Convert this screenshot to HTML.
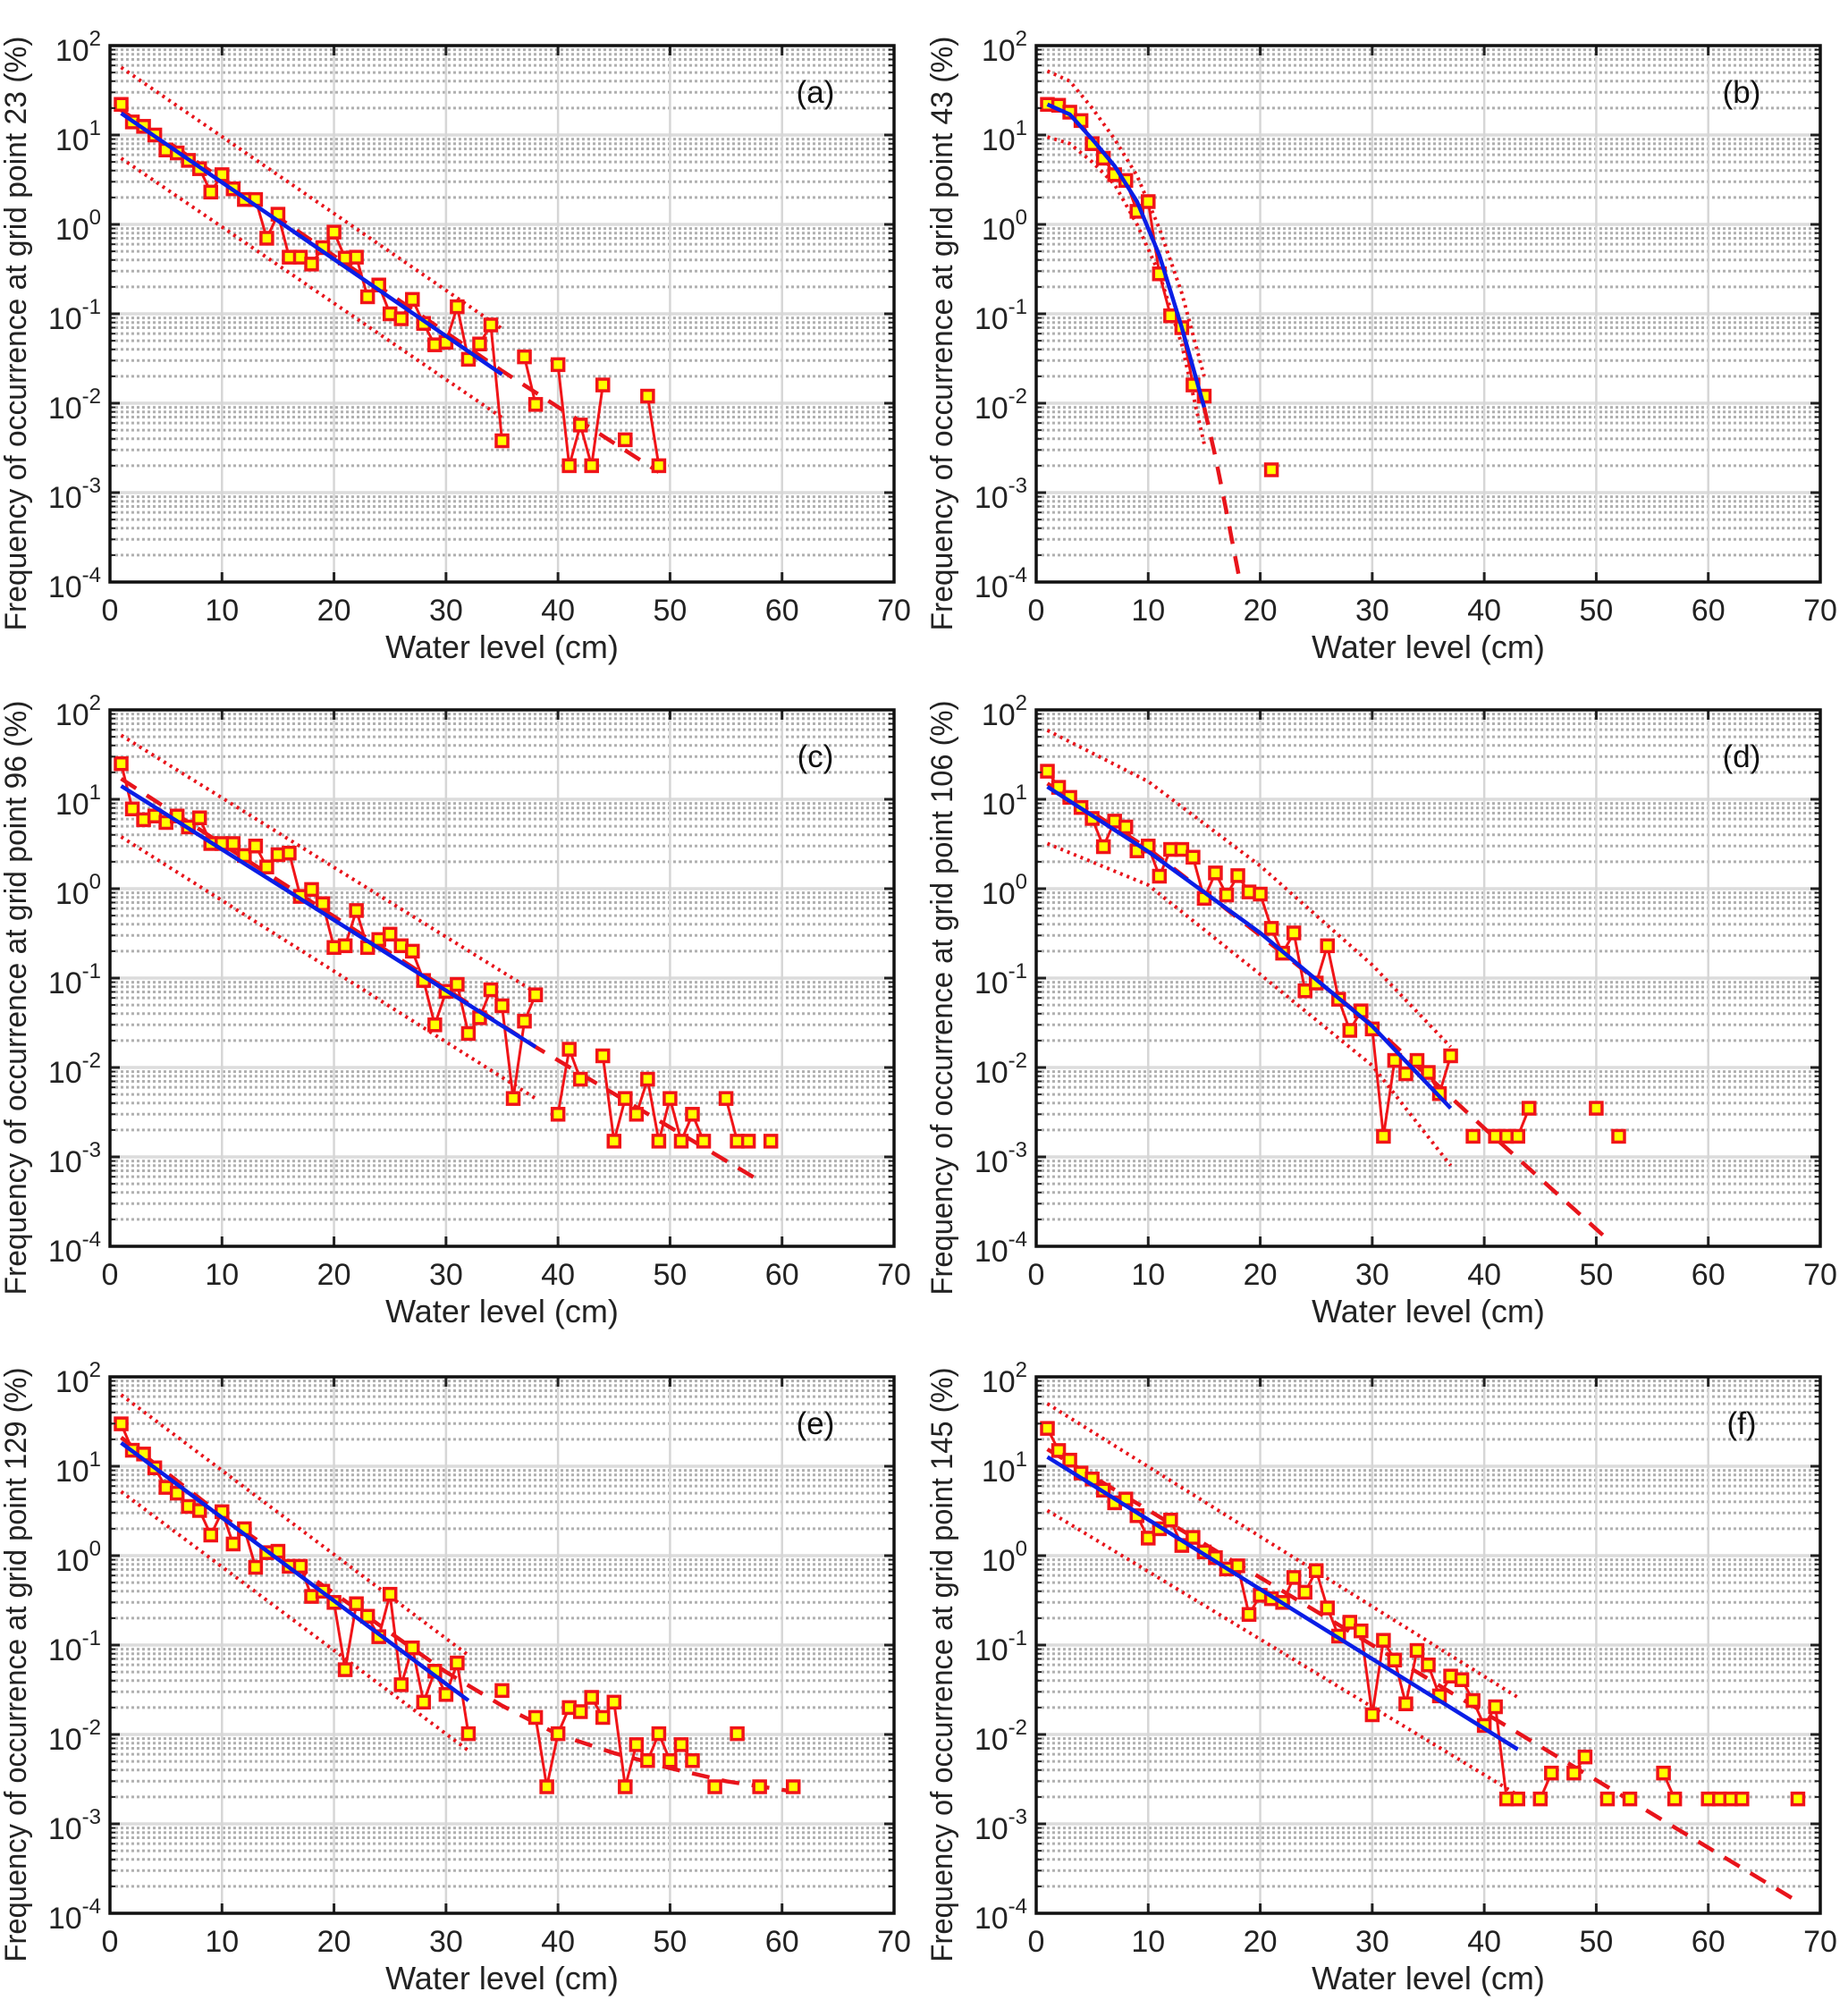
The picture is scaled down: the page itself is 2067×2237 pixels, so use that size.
<!DOCTYPE html>
<html><head><meta charset="utf-8">
<style>
html,body{margin:0;padding:0;background:#fff;}
svg{display:block;font-family:"Liberation Sans",Arial,sans-serif;}
</style></head>
<body>
<svg id="fig" width="2067" height="2237" viewBox="0 0 2067 2237" xmlns="http://www.w3.org/2000/svg"></svg>
<script>
// ---------- data ----------
const panelLabels = ["(a)","(b)","(c)","(d)","(e)","(f)"];
const gridPoints = ["23","43","96","106","129","145"];
const xTicks = [0,10,20,30,40,50,60,70];
const yDecades = [2,1,0,-1,-2,-3,-4];

const obsA = [[1,22],[2,14],[3,12.5],[4,10],[5,6.8],[6,6.3],[7,5.2],[8,4.2],[9,2.3],[10,3.6],[11,2.5],[12,1.9],[13,1.9],[14,0.7],[15,1.3],[16,0.43],[17,0.43],[18,0.36],[19,0.55],[20,0.82],[21,0.42],[22,0.43],[23,0.155],[24,0.21],[25,0.1],[26,0.088],[27,0.145],[28,0.078],[29,0.045],[30,0.048],[31,0.12],[32,0.031],[33,0.046],[34,0.075],[35,0.0038],null,[37,0.033],[38,0.0097],null,[40,0.027],[41,0.002],[42,0.0057],[43,0.002],[44,0.016],null,[46,0.0039],null,[48,0.012],[49,0.002]];
const obsB = [[1,22],[2,21.5],[3,18],[4,14.5],[5,8],[6,5.5],[7,3.6],[8,3.1],[9,1.4],[10,1.8],[11,0.28],[12,0.095],[13,0.07],[14,0.016],[15,0.012],null,[21,0.0018]];
const obsC = [[1,25],[2,7.8],[3,5.9],[4,6.5],[5,5.5],[6,6.5],[7,4.9],[8,6.2],[9,3.2],[10,3.2],[11,3.2],[12,2.35],[13,3.0],[14,1.75],[15,2.4],[16,2.5],[17,0.82],[18,0.98],[19,0.68],[20,0.22],[21,0.23],[22,0.57],[23,0.22],[24,0.27],[25,0.31],[26,0.23],[27,0.2],[28,0.094],[29,0.03],[30,0.071],[31,0.085],[32,0.024],[33,0.036],[34,0.074],[35,0.049],[36,0.0045],[37,0.033],[38,0.065],null,[40,0.003],[41,0.016],[42,0.0074],null,[44,0.0135],[45,0.0015],[46,0.0045],[47,0.003],[48,0.0074],[49,0.0015],[50,0.0045],[51,0.0015],[52,0.003],[53,0.0015],null,[55,0.0045],[56,0.0015],[57,0.0015],null,[59,0.0015]];
const obsD = [[1,20.6],[2,13.6],[3,10.5],[4,8.1],[5,6.1],[6,2.95],[7,5.7],[8,4.9],[9,2.65],[10,3.0],[11,1.38],[12,2.75],[13,2.75],[14,2.25],[15,0.78],[16,1.5],[17,0.85],[18,1.4],[19,0.92],[20,0.87],[21,0.36],[22,0.19],[23,0.32],[24,0.072],[25,0.088],[26,0.23],[27,0.058],[28,0.026],[29,0.043],[30,0.027],[31,0.0017],[32,0.012],[33,0.0085],[34,0.012],[35,0.0088],[36,0.0051],[37,0.0135],null,[39,0.0017],null,[41,0.0017],[42,0.0017],[43,0.0017],[44,0.0035],null,[50,0.0035],null,[52,0.0017]];
const obsE = [[1,29.8],[2,15.1],[3,13.7],[4,9.6],[5,5.8],[6,5.0],[7,3.55],[8,3.2],[9,1.7],[10,3.1],[11,1.35],[12,2.0],[13,0.74],[14,1.08],[15,1.12],[16,0.76],[17,0.76],[18,0.35],[19,0.4],[20,0.3],[21,0.053],[22,0.29],[23,0.21],[24,0.124],[25,0.37],[26,0.036],[27,0.093],[28,0.023],[29,0.051],[30,0.028],[31,0.063],[32,0.0102],null,[35,0.031],null,[38,0.0155],[39,0.0026],[40,0.0102],[41,0.02],[42,0.018],[43,0.026],[44,0.0155],[45,0.023],[46,0.0026],[47,0.0077],[48,0.0051],[49,0.0102],[50,0.0051],[51,0.0077],[52,0.0051],null,[54,0.0026],null,[56,0.0102],null,[58,0.0026],null,[61,0.0026]];
const obsF = [[1,26.5],[2,15],[3,11.7],[4,8.4],[5,7.2],[6,5.4],[7,3.9],[8,4.3],[9,2.8],[10,1.57],[11,2.0],[12,2.5],[13,1.3],[14,1.6],[15,1.1],[16,0.95],[17,0.71],[18,0.77],[19,0.22],[20,0.36],[21,0.33],[22,0.3],[23,0.57],[24,0.39],[25,0.68],[26,0.26],[27,0.126],[28,0.18],[29,0.144],[30,0.0166],[31,0.113],[32,0.068],[33,0.022],[34,0.087],[35,0.06],[36,0.027],[37,0.045],[38,0.041],[39,0.024],[40,0.0126],[41,0.0204],[42,0.0019],[43,0.0019],null,[45,0.0019],[46,0.0037],null,[48,0.0037],[49,0.0056],null,[51,0.0019],null,[53,0.0019],null,[56,0.0037],[57,0.0019],null,[60,0.0019],[61,0.0019],[62,0.0019],[63,0.0019],null,[68,0.0019]];

const fitA = [[1,17.5],[35,0.021]];
const dashA = [[1,19],[35,0.023],[49,0.0017]];
const upA = [[1,57],[35,0.068]];
const loA = [[1,5.5],[35,0.0069]];

const fitB = [[1,22],[3,17],[5,9],[7,4.5],[9,1.8],[11,0.45],[13,0.07],[15,0.009]];
const dashB = [[15,0.009],[16,0.0025],[17,0.0006],[18.2,0.0001]];
const upB = [[1,52],[3,40],[5,20],[7,9],[9,3.5],[11,0.9],[13,0.17],[15,0.02]];
const loB = [[1,9.5],[3,8],[5,5],[7,2.8],[9,1],[11,0.28],[13,0.045],[15,0.0035]];

const fitC = [[1,14.1],[38,0.017]];
const dashC = [[1,17],[38,0.017],[58,0.00054]];
const upC = [[1,52],[38,0.069]];
const loC = [[1,3.8],[38,0.0045]];

const fitD = [[1,13.8],[10,2.6],[20,0.32],[30,0.029],[37,0.0035]];
const dashD = [[1,15],[10,2.8],[20,0.3],[30,0.03],[40,0.0021],[51,0.00012]];
const upD = [[1,59],[10,15.8],[20,1.8],[30,0.14],[37,0.017]];
const loD = [[1,3.2],[10,1.1],[20,0.11],[30,0.0105],[37,0.0008]];

const fitE = [[1,18.3],[32,0.024]];
const dashE = [[1,21],[10,2.8],[20,0.38],[30,0.05],[35,0.021],[40,0.01],[45,0.0062],[50,0.0042],[55,0.003],[61,0.0023]];
const upE = [[1,63],[32,0.077]];
const loE = [[1,5.2],[32,0.0066]];

const fitF = [[1,12.7],[43,0.0068]];
const dashF = [[1,15.5],[68,0.000135]];
const upF = [[1,50],[43,0.026]];
const loF = [[1,3.2],[43,0.0021]];

const obsAll=[obsA,obsB,obsC,obsD,obsE,obsF];
const fitAll=[fitA,fitB,fitC,fitD,fitE,fitF];
const dashAll=[dashA,dashB,dashC,dashD,dashE,dashF];
const upAll=[upA,upB,upC,upD,upE,upF];
const loAll=[loA,loB,loC,loD,loE,loF];

// ---------- layout ----------
const NS="http://www.w3.org/2000/svg";
const svg=document.getElementById('fig');
const lefts=[123,1159], tops=[51,794,1540], W=877, H=600;
function mk(tag,attrs,parent){const e=document.createElementNS(NS,tag);for(const k in attrs)e.setAttribute(k,attrs[k]);(parent||svg).appendChild(e);return e;}

for(let p=0;p<6;p++){
  const L=lefts[p%2], T=tops[Math.floor(p/2)];
  const sx=v=>L+v/70*W;
  const sy=v=>T+(2-Math.log10(v))/6*H;
  const syl=l=>T+(2-l)/6*H;
  const g=mk('g',{});
  
  
  const cid='clip'+p;
  const cp=mk('clipPath',{id:cid},g);mk('rect',{x:L,y:T,width:W,height:H},cp);
  const grid=mk('g',{},g);
  
  
  for(let d=-4;d<2;d++){for(let m=2;m<=9;m++){const y=syl(d+Math.log10(m));mk('line',{x1:L,x2:L+W,y1:y,y2:y,stroke:'#b0b0b0','stroke-width':3,'stroke-dasharray':'3 3'},grid);}}
  for(const d of yDecades){const y=syl(d);mk('line',{x1:L,x2:L+W,y1:y,y2:y,stroke:'#dcdcdc','stroke-width':3.5},grid);}
  for(const t of xTicks){const x=sx(t);mk('line',{x1:x,x2:x,y1:T,y2:T+H,stroke:'#d6d6d6','stroke-width':2.5},grid);}
  const plot=mk('g',{'clip-path':'url(#'+cid+')'},g);
  function path(pts){let s='',pen=false;for(const q of pts){if(!q){pen=false;continue;}s+=(pen?'L':'M')+sx(q[0]).toFixed(1)+' '+sy(q[1]).toFixed(1);pen=true;}return s;}
  const up=mk('path',{d:path(upAll[p]),fill:'none',stroke:'#e8141b','stroke-width':4,'stroke-dasharray':'3 5'},plot);
  
  const lo=mk('path',{d:path(loAll[p]),fill:'none',stroke:'#e8141b','stroke-width':4,'stroke-dasharray':'3 5'},plot);
  
  const da=mk('path',{d:path(dashAll[p]),fill:'none',stroke:'#e8141b','stroke-width':4.5,'stroke-dasharray':'20 14'},plot);
  
  const ob=mk('path',{d:path(obsAll[p]),fill:'none',stroke:'#f01418','stroke-width':3},plot);
  
  for(const q of obsAll[p]){if(!q)continue;
    const r=mk('rect',{x:sx(q[0])-6.5,y:sy(q[1])-6.5,width:13,height:13,fill:'#ffff00',stroke:'#f01418','stroke-width':3.5},plot);
    }
  const fb=mk('path',{d:path(fitAll[p]),fill:'none',stroke:'#0a1ee6','stroke-width':4.5},plot);
  
  for(const t of xTicks){const x=sx(t);mk('line',{x1:x,x2:x,y1:T+H,y2:T+H-11,stroke:'#222','stroke-width':3},g);mk('line',{x1:x,x2:x,y1:T,y2:T+11,stroke:'#222','stroke-width':3},g);
    const tx=mk('text',{x:x,y:T+H+43,'font-size':34,'text-anchor':'middle',fill:'#222'},g);tx.textContent=t;
    }
  for(let d=-4;d<2;d++){for(let m=2;m<=9;m++){const y=syl(d+Math.log10(m));mk('line',{x1:L,x2:L+6,y1:y,y2:y,stroke:'#222','stroke-width':2},g);mk('line',{x1:L+W,x2:L+W-6,y1:y,y2:y,stroke:'#222','stroke-width':2},g);}}
  for(const d of yDecades){const y=syl(d);mk('line',{x1:L,x2:L+11,y1:y,y2:y,stroke:'#222','stroke-width':3},g);mk('line',{x1:L+W,x2:L+W-11,y1:y,y2:y,stroke:'#222','stroke-width':3},g);
    const tx=mk('text',{x:L-10,y:y+17,'font-size':34,'text-anchor':'end',fill:'#222'},g);
    
    const b=mk('tspan',{},tx);b.textContent='10';const s=mk('tspan',{dy:-17,'font-size':24},tx);s.textContent=String(d);}
  mk('rect',{x:L,y:T,width:W,height:H,fill:'none',stroke:'#111','stroke-width':3.5},g);
  const pl=mk('text',{x:L+W-88,y:T+64,'font-size':35,'text-anchor':'middle',fill:'#111'},g);pl.textContent=panelLabels[p];
  
  const xl=mk('text',{x:L+W/2,y:T+H+85,'font-size':36,'text-anchor':'middle',fill:'#222'},g);xl.textContent='Water level (cm)';
  
  const yx=L-94, yy=T+H/2+22;
  const yl=mk('text',{x:yx,y:yy,'font-size':34,'text-anchor':'middle',fill:'#222',textLength:665,lengthAdjust:'spacingAndGlyphs',transform:'rotate(-90 '+yx+' '+yy+')'},g);
  yl.textContent='Frequency of occurrence at grid point '+gridPoints[p]+' (%)';
  
}
</script>
</body></html>
